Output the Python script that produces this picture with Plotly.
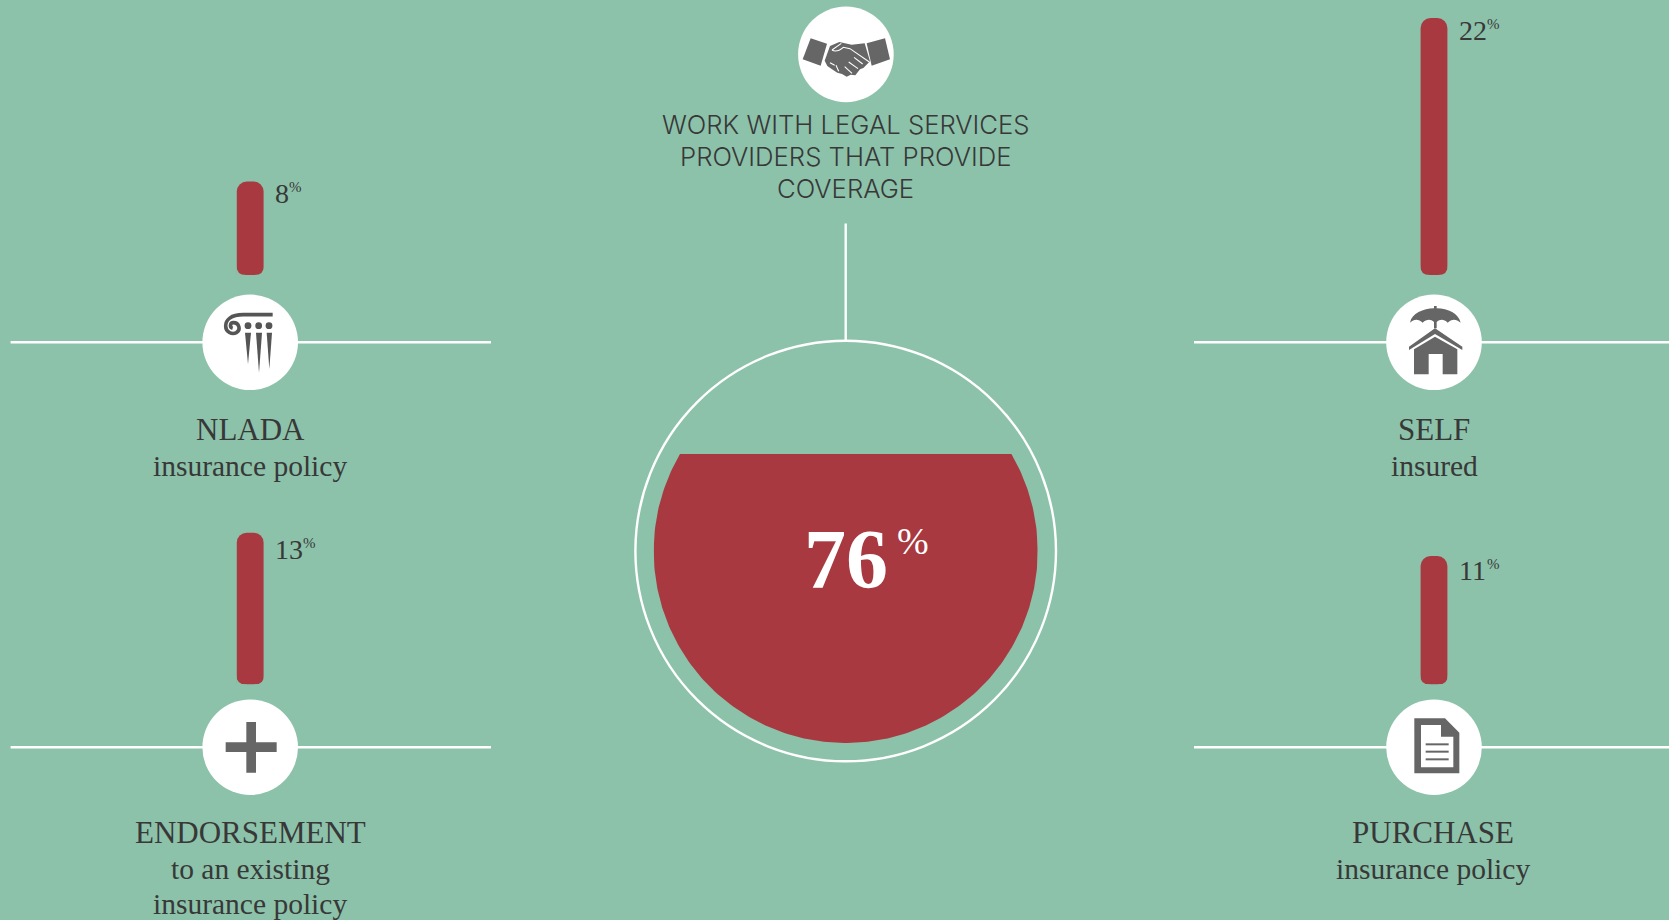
import numpy as np
import plotly.graph_objects as go

# ---- data ----
top_categories = ["NLADA", "SELF"]
top_values = [8, 22]
bottom_categories = ["ENDORSEMENT", "PURCHASE"]
bottom_values = [13, 11]
coverage_share = 76
heading_lines = ["WORK WITH LEGAL SERVICES", "PROVIDERS THAT PROVIDE", "COVERAGE"]
top_sublabels = ["insurance policy", "insured"]
bottom_sublabels = [["to an existing", "insurance policy"], ["insurance policy"]]

# ---- style ----
W, H = 1669, 920
BG = "#8CC2AA"
RED = "#A83940"
GREY = "#666666"
INK = "#383838"
SERIF = "Liberation Serif"
SANS = "Inter"

COL_L, COL_R = 250.2, 1434.0      # column centres
ROW_T, ROW_B = 342.3, 747.2       # icon-disc centres
DISC_R = 47.8
GAUGE_CX, GAUGE_CY, GAUGE_R = 845.7, 551.0, 192.0
PX_PER_PCT = 11.68
BAR_MAX = 23.0
BASE_T, BASE_B = 275.0, 684.5
BAR_W, BAR_RADIUS = 26.8, 10

fig = go.Figure()


def ydomain(py_bottom, py_top):
    return [1 - py_bottom / H, 1 - py_top / H]


# two categories placed exactly on the column centres
unit = COL_R - COL_L
cat_range = [-COL_L / unit, (W - COL_L) / unit]
bar_width = BAR_W / unit

fig.add_trace(go.Bar(x=top_categories, y=top_values, width=bar_width,
                     marker=dict(color=RED, line_width=0), xaxis="x2", yaxis="y2",
                     hoverinfo="x+y"))
fig.add_trace(go.Bar(x=bottom_categories, y=bottom_values, width=bar_width,
                     marker=dict(color=RED, line_width=0), xaxis="x3", yaxis="y3",
                     hoverinfo="x+y"))

# gauge: circle clipped at the level of the share
GAUGE_UNITS = 101.0
r_u = GAUGE_UNITS / 2
level_angle = np.arcsin(np.clip((coverage_share - r_u) / r_u, -1, 1))
sweep = np.linspace(np.pi - level_angle, 2 * np.pi + level_angle, 240)
fig.add_trace(go.Scatter(x=r_u * np.cos(sweep), y=r_u + r_u * np.sin(sweep),
                         mode="lines", fill="toself", fillcolor=RED,
                         line=dict(width=0, color=RED), xaxis="x4", yaxis="y4",
                         hoverinfo="skip"))

hidden = dict(visible=False, showgrid=False, zeroline=False, fixedrange=True)
fig.update_layout(
    width=W, height=H, margin=dict(l=0, r=0, t=0, b=0, pad=0),
    paper_bgcolor=BG, plot_bgcolor="rgba(0,0,0,0)", showlegend=False,
    barmode="overlay", barcornerradius=BAR_RADIUS,
    xaxis=dict(hidden, range=[0, W], domain=[0, 1]),
    yaxis=dict(hidden, range=[H, 0], domain=[0, 1]),
    xaxis2=dict(hidden, type="category", categoryorder="array", categoryarray=top_categories,
                range=cat_range, domain=[0, 1], anchor="y2"),
    yaxis2=dict(hidden, range=[0, BAR_MAX], anchor="x2",
                domain=ydomain(BASE_T, BASE_T - BAR_MAX * PX_PER_PCT)),
    xaxis3=dict(hidden, type="category", categoryorder="array", categoryarray=bottom_categories,
                range=cat_range, domain=[0, 1], anchor="y3"),
    yaxis3=dict(hidden, range=[0, BAR_MAX], anchor="x3",
                domain=ydomain(BASE_B, BASE_B - BAR_MAX * PX_PER_PCT)),
    xaxis4=dict(hidden, range=[-r_u, r_u], anchor="y4",
                domain=[(GAUGE_CX - GAUGE_R) / W, (GAUGE_CX + GAUGE_R) / W]),
    yaxis4=dict(hidden, range=[0, GAUGE_UNITS], anchor="x4",
                domain=ydomain(GAUGE_CY + GAUGE_R, GAUGE_CY - GAUGE_R)),
)

shapes = []


def line(x0, y0, x1, y1, color="white", width=2.4):
    shapes.append(dict(type="line", xref="x", yref="y", x0=x0, y0=y0, x1=x1, y1=y1,
                       line=dict(color=color, width=width), layer="below"))


def disc(cx, cy, r, fill="white", stroke=None, width=0, layer="above"):
    shapes.append(dict(type="circle", xref="x", yref="y", x0=cx - r, x1=cx + r,
                       y0=cy - r, y1=cy + r, fillcolor=fill, layer=layer,
                       line=dict(color=stroke or "rgba(0,0,0,0)", width=width)))


def glyph(ox, oy, d, fill=GREY, stroke=None, width=0):
    """Icon path given in 1/3 px units relative to (ox, oy)."""
    out, tokens = [], d.replace(",", " ").split()
    is_x = True
    for t in tokens:
        if t.isalpha():
            out.append(t)
            is_x = True
        else:
            v = float(t) / 3 + (ox if is_x else oy)
            out.append(f"{v:.2f}")
            is_x = not is_x
    shapes.append(dict(type="path", xref="x", yref="y", path=" ".join(out),
                       fillcolor=fill if fill else "rgba(0,0,0,0)", layer="above",
                       line=dict(color=stroke or "rgba(0,0,0,0)", width=width)))


def round_bar_foot(cx, base_y):
    """Round the foot of a bar; the library only rounds the end at its value."""
    hw, r = BAR_W / 2 + 0.6, BAR_RADIUS
    for sx in (-1, 1):
        xe, xi = cx + sx * hw, cx + sx * (hw - r)
        shapes.append(dict(type="path", xref="x", yref="y", fillcolor=BG, layer="above",
                           line=dict(color="rgba(0,0,0,0)", width=0),
                           path=f"M {xe:.2f} {base_y - r:.2f} Q {xe:.2f} {base_y:.2f} {xi:.2f} {base_y:.2f} "
                                f"L {xi:.2f} {base_y + 1.5:.2f} L {xe:.2f} {base_y + 1.5:.2f} Z"))


for cx, base in [(COL_L, BASE_T), (COL_R, BASE_T), (COL_L, BASE_B), (COL_R, BASE_B)]:
    round_bar_foot(cx, base)

# rules behind the discs
line(10.6, ROW_T, 491, ROW_T)
line(10.6, ROW_B, 491, ROW_B)
line(1194, ROW_T, W, ROW_T)
line(1194, ROW_B, W, ROW_B)
line(GAUGE_CX, 223.5, GAUGE_CX, 341)

# gauge outline
disc(GAUGE_CX, GAUGE_CY, 210.3, fill="rgba(0,0,0,0)", stroke="white", width=2.4, layer="below")

for cx, cy in [(COL_L, ROW_T), (COL_R, ROW_T), (COL_L, ROW_B), (COL_R, ROW_B), (845.9, 54.4)]:
    disc(cx, cy, DISC_R)

# column capital
ox, oy = 180, 170
glyph(ox, oy, "M 278 434 L 190 434 C 152 434 137 450 137 468 C 137 486 156 495 169 488 "
              "C 183 480 178 458 160 458 C 150 458 148 472 158 475",
      fill=None, stroke="#555555", width=3.6)
for dx in (204, 236, 267):
    disc(ox + dx / 3, oy + 467 / 3, 3.4, fill="#555555")
glyph(ox, oy, "M 195 488 L 213 488 L 204 582 Z", fill="#555555")
glyph(ox, oy, "M 228 488 L 246 488 L 237 608 Z", fill="#555555")
glyph(ox, oy, "M 260 488 L 276 488 L 268 597 Z", fill="#555555")

# plus
ox, oy = 190, 520
glyph(ox, oy, "M 169 606 L 198 606 L 198 667 L 260 667 L 260 696 L 198 696 L 198 758 "
              "L 169 758 L 169 696 L 107 696 L 107 667 L 169 667 Z")

# umbrella and house
ox, oy = 1370, 280
glyph(ox, oy, "M 120 128 C 125 100 160 86 192 85 L 192 78 L 200 78 L 200 85 C 235 86 265 100 272 128 "
              "C 258 116 245 116 233 128 C 222 117 210 117 200 126 L 200 145 L 192 145 L 192 126 "
              "C 182 117 170 117 158 128 C 146 116 132 116 120 128 Z")
glyph(ox, oy, "M 117 200 L 195 145 L 277 200 L 277 210 L 195 162 L 117 210 Z")
glyph(ox, oy, "M 132 283 L 132 208 L 195 170 L 262 208 L 262 283 L 218 283 L 218 222 "
              "L 176 222 L 176 283 Z")

# document
ox, oy = 1370, 690
glyph(ox, oy, "M 133 85 L 225 85 L 268 128 L 268 250 L 133 250 Z")
glyph(ox, oy, "M 153 105 L 213 105 L 213 140 L 250 140 L 250 232 L 153 232 Z", fill="white")
for yy in (163, 185, 208):
    glyph(ox, oy, f"M 167 {yy - 3} L 236 {yy - 3} L 236 {yy + 3} L 167 {yy + 3} Z")

# handshake
ox, oy = 780, 0
glyph(ox, oy, "M 92 115 L 141 131 L 122 197 L 68 178 Z")
glyph(ox, oy, "M 260 130 L 315 115 L 330 178 L 275 197 Z")
glyph(ox, oy, "M 150 138 L 178 126 L 215 134 L 254 130 L 270 184 L 250 204 L 240 208 L 226 226 "
              "L 212 224 L 200 230 L 186 222 L 172 218 L 156 208 L 142 198 L 134 182 Z")
for seg in ["M 156 150 C 165 156 178 152 190 142 L 210 146 L 268 186",
            "M 156 150 L 184 130",
            "M 222 172 L 248 192", "M 206 186 L 234 206", "M 194 200 L 216 220",
            "M 150 188 L 164 196", "M 168 196 L 176 214"]:
    glyph(ox, oy, seg, fill=None, stroke="white", width=1.1)

fig.update_layout(shapes=shapes)

ann = []


def text(x, y, s, size, font=SERIF, color=INK, anchor="center", weight=None):
    f = dict(family=font, size=size, color=color)
    if weight:
        f["weight"] = weight
    ann.append(dict(x=x, y=y, xref="x", yref="y", text=s, showarrow=False, font=f,
                    xanchor=anchor, yanchor="middle", borderpad=0, borderwidth=0))


for line_text, y in zip(heading_lines, (124.5, 156.5, 188.5)):
    text(GAUGE_CX, y, line_text, 25.7, font=SANS, weight=300)

# main captions
CAP, SUB = 31, 29.5
text(COL_L, 429.5, top_categories[0], CAP)
text(COL_L, 465.5, top_sublabels[0], SUB)
text(COL_R, 429.5, top_categories[1], CAP)
text(COL_R, 465.5, top_sublabels[1], SUB)
text(COL_L, 832, bottom_categories[0], CAP)
for s, y in zip(bottom_sublabels[0], (868.5, 903.5)):
    text(COL_L, y, s, SUB)
text(COL_R - 1, 832, bottom_categories[1], CAP)
text(COL_R - 1, 868.5, bottom_sublabels[1][0], SUB)

# value labels with a raised percent sign
NUM_SIZE, PCT_SIZE = 28, 15
for v, x, y in [(top_values[0], 275, 193), (top_values[1], 1458.5, 30.5),
                (bottom_values[0], 275, 549.5), (bottom_values[1], 1458.5, 570.5)]:
    num = str(v)
    text(x, y, num, NUM_SIZE, anchor="left")
    text(x + 14 * len(num), y - 6.5, "%", PCT_SIZE, anchor="left")

text(804, 559, str(coverage_share), 84, color="white", anchor="left", weight=700)
text(896.5, 541, "%", 38, color="white", anchor="left")

fig.update_layout(annotations=ann)
fig.write_html("out.html", config=dict(displayModeBar=False))
